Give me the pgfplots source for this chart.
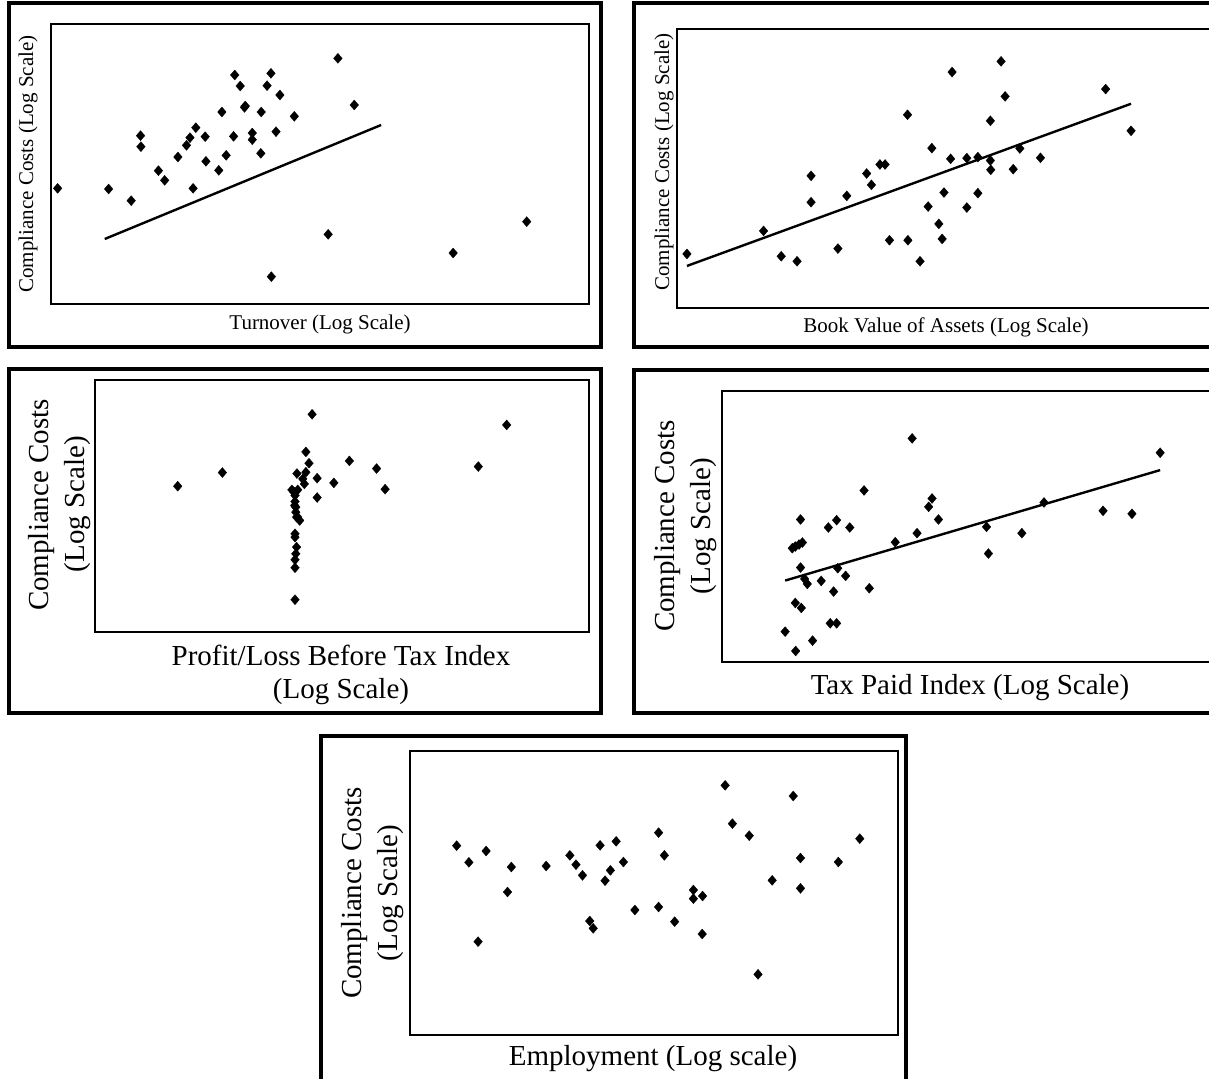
\documentclass[border=0pt]{standalone}
\usepackage{pgfplots}
\pgfplotsset{compat=1.18}
\usepackage{fontspec}
\setmainfont{Liberation Serif}
\newcommand\smallf{\fontsize{21}{25}\selectfont}
\newcommand\bigf{\fontsize{29}{35}\selectfont}
\pgfplotsset{
  panel/.style={
    scale only axis, anchor=north west,
    axis line style={line width=1.6pt},
    xtick=\empty, ytick=\empty,
    y dir=reverse, clip=false,
  },
  pts/.style={only marks, mark=diamond*, mark size=5pt,
    mark options={xscale=1.15, fill=black, draw=black, line width=0.3pt}},
  fit/.style={no marks, line width=2.4pt, black},
}
\begin{document}
\begin{tikzpicture}
\path[use as bounding box] (0pt,0pt) rectangle (1209pt,-1078pt);
\clip (0pt,0pt) rectangle (1209pt,-1078pt);
% outer frames
\draw[line width=3.3pt] (9pt,-3pt) rectangle (601pt,-347pt);
\draw[line width=3.3pt] (634pt,-3pt) rectangle (1240pt,-347pt);
\draw[line width=3.3pt] (9pt,-369pt) rectangle (601pt,-713pt);
\draw[line width=3.3pt] (634pt,-370pt) rectangle (1240pt,-713pt);
\draw[line width=3.3pt] (321pt,-736pt) rectangle (906pt,-1100pt);

% Panel 1: Turnover
\begin{axis}[panel, at={(51pt,-24pt)}, width=538pt, height=280pt,
  xmin=133, xmax=1515, ymin=73, ymax=913]
\addplot[pts] coordinates {
(150,566) (281,568) (339,603) (363,408) (364,441) (409,513) (425,542)
(459,472) (481,437) (490,414) (505,384) (498,566) (529,411) (531,485)
(564,512) (572,337) (583,467) (602,410) (605,226) (619,259) (630,323)
(632,319) (650,400) (650,420) (672,461) (673,337) (688,258) (698,221)
(711,396) (721,286) (758,350) (870,176) (912,316) (845,704) (699,831)
(1166,760) (1355,666)};
\addplot[fit] coordinates {(271,718) (981,376)};
\end{axis}
\node[rotate=90, anchor=base, font=\smallf] at (33pt,-164pt) {Compliance Costs (Log Scale)};
\node[anchor=base, font=\smallf] at (320pt,-329pt) {Turnover (Log Scale)};

% Panel 2: Book value of assets
\begin{axis}[panel, at={(677pt,-29pt)}, width=538pt, height=279pt,
  xmin=133, xmax=1594, ymin=88, ymax=924]
\addplot[pts] coordinates {
(160,762) (368,693) (416,769) (459,784) (497,528) (497,607) (570,746)
(594,588) (648,521) (661,555) (684,494) (698,494) (710,721) (759,345)
(760,721) (793,784) (815,620) (825,445) (844,672) (853,717) (858,578)
(876,477) (880,217) (920,623) (920,475) (950,472) (950,580) (984,482)
(984,363) (985,510) (1013,185) (1024,290) (1046,508) (1064,446)
(1120,474) (1297,268) (1366,393)};
\addplot[fit] coordinates {(160,798) (1366,312)};
\end{axis}
\node[rotate=90, anchor=base, font=\smallf] at (669pt,-162pt) {Compliance Costs (Log Scale)};
\node[anchor=base, font=\smallf] at (946pt,-332pt) {Book Value of Assets (Log Scale)};

% Panel 3: Profit/Loss
\begin{axis}[panel, at={(95pt,-380pt)}, width=494pt, height=252pt,
  xmin=243, xmax=1515, ymin=43, ymax=800]
\addplot[pts] coordinates {
(456,362) (571,321) (802,146) (1303,178) (786,259) (794,293) (763,324)
(786,320) (778,340) (815,338) (782,355) (898,286) (858,352) (968,309)
(990,371) (1230,303) (815,396) (750,373) (765,373) (758,390) (758,408)
(760,425) (760,440) (762,455) (770,465) (765,455) (758,505) (758,515)
(762,545) (760,565) (758,583) (758,607) (758,703) (756,380) (757,420)};
\end{axis}
\node[rotate=90, anchor=base, font=\bigf] at (48pt,-505pt) {Compliance Costs};
\node[rotate=90, anchor=base, font=\bigf] at (84pt,-504pt) {(Log Scale)};
\node[anchor=base, font=\bigf] at (341pt,-665pt) {Profit/Loss Before Tax Index};
\node[anchor=base, font=\bigf] at (341pt,-698pt) {(Log Scale)};

% Panel 4: Tax paid
\begin{axis}[panel, at={(722pt,-391pt)}, width=496pt, height=271pt,
  xmin=250, xmax=1570, ymin=77, ymax=889]
\addplot[pts] coordinates {
(418,798) (446,856) (491,825) (437,548) (445,543) (455,537) (464,531)
(459,462) (459,606) (470,640) (477,655) (445,712) (461,727) (514,646)
(533,486) (555,464) (558,608) (547,678) (579,631) (538,773) (555,773)
(590,486) (628,375) (642,668) (711,530) (756,219) (769,503) (800,424)
(809,399) (826,462) (954,484) (959,564) (1048,503) (1107,411)
(1264,436) (1341,445) (1416,262)};
\addplot[fit] coordinates {(418,645) (1416,314)};
\end{axis}
\node[rotate=90, anchor=base, font=\bigf] at (674pt,-526pt) {Compliance Costs};
\node[rotate=90, anchor=base, font=\bigf] at (710pt,-526pt) {(Log Scale)};
\node[anchor=base, font=\bigf] at (970pt,-694pt) {Tax Paid Index (Log Scale)};

% Panel 5: Employment
\begin{axis}[panel, at={(410pt,-751pt)}, width=488pt, height=284pt,
  xmin=247, xmax=1523, ymin=68, ymax=920]
\addplot[pts] coordinates {
(369,352) (401,402) (446,368) (425,640) (502,491) (512,416) (603,413)
(665,381) (681,409) (698,441) (717,578) (726,600) (744,351) (757,457)
(771,426) (786,339) (805,401) (835,545) (897,313) (912,381) (897,536)
(939,580) (988,485) (988,511) (1012,503) (1011,617) (1071,171)
(1090,286) (1134,322) (1157,738) (1194,456) (1249,203) (1268,389)
(1268,480) (1367,401) (1423,331)};
\end{axis}
\node[rotate=90, anchor=base, font=\bigf] at (361pt,-893pt) {Compliance Costs};
\node[rotate=90, anchor=base, font=\bigf] at (397pt,-893pt) {(Log Scale)};
\node[anchor=base, font=\bigf] at (653pt,-1065pt) {Employment (Log scale)};
\end{tikzpicture}
\end{document}
